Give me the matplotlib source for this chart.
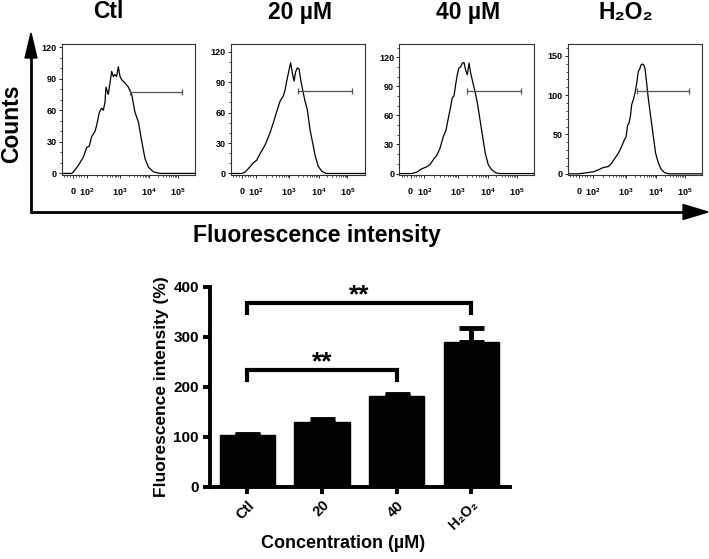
import matplotlib
matplotlib.use('Agg')
import numpy as np
import matplotlib.pyplot as plt
from matplotlib.ticker import AutoMinorLocator, FixedLocator
from matplotlib.patches import Polygon

plt.rcParams['font.family'] = ['Liberation Sans', 'DejaVu Sans']
plt.rcParams['font.weight'] = 'bold'
plt.rcParams['axes.labelweight'] = 'bold'
plt.rcParams['mathtext.fontset'] = 'custom'
plt.rcParams['mathtext.rm'] = 'Liberation Sans:bold'
plt.rcParams['mathtext.bf'] = 'Liberation Sans:bold'
plt.rcParams['mathtext.it'] = 'Liberation Sans:bold'
plt.rcParams['mathtext.default'] = 'bf'

W, H = 709, 559

# ===== FLOW HISTOGRAMS (display channel 0-1024 vs counts) =====
ctl_ch = [0, 77, 90, 128, 166, 192, 212, 230, 256, 269, 289, 307, 320, 333, 340,
          358, 371, 384, 397, 410, 422, 435, 448, 461, 486, 512, 538, 563, 589,
          614, 640, 666, 704, 755, 1024]
ctl_counts = [0, 0, 1.5, 7.7, 15.4, 24.6, 26, 35, 40, 46, 58, 62, 60, 68, 82,
              75, 86, 97, 92, 94, 92, 101.5, 92, 89, 86, 82, 75, 58, 49,
              31, 14, 6, 1.5, 0, 0]

uM20_ch = [0, 84, 109, 147, 173, 198, 224, 262, 300, 325, 356, 376, 389, 401,
           414, 427, 445, 457, 470, 483, 495, 508, 521, 534, 549, 567, 584, 605,
           625, 645, 668, 694, 727, 1024]
uM20_counts = [0, 0, 1.3, 6.5, 10.5, 13, 19.6, 28, 40, 50, 63, 71, 74, 76,
               82, 91, 102, 109, 99, 91, 100, 104, 103, 92, 82, 71, 63, 43,
               30, 17, 7, 2.3, 0, 0]

uM40_ch = [0, 96, 134, 171, 209, 235, 260, 285, 310, 335, 356, 373, 391, 403,
           416, 429, 441, 454, 467, 479, 492, 504, 517, 530, 542, 557, 575, 593,
           613, 633, 653, 676, 701, 734, 764, 1024]
uM40_counts = [0, 0, 1.4, 4.8, 6.9, 9.3, 14.4, 18.5, 26, 38, 45, 57, 69, 78,
               80, 92, 102, 109, 110, 114, 114.5, 107, 102, 114, 104, 95, 85, 73,
               55.5, 38, 21, 9, 4, 0.7, 0, 0]

h2o2_ch = [0, 81, 119, 157, 195, 233, 271, 309, 335, 360, 385, 411, 431, 444,
           456, 466, 477, 487, 499, 512, 525, 537, 550, 558, 568, 578, 588, 601,
           613, 631, 652, 669, 690, 710, 735, 766, 1024]
h2o2_counts = [0, 0, 0.8, 1.7, 2.5, 5, 8, 9.3, 13.6, 20, 26, 35, 43, 47,
               62, 64, 73, 88, 94, 102.5, 115, 130, 134, 138.5, 139.5, 138.5, 134, 115,
               96, 73, 47, 26, 13.6, 6, 1.7, 0, 0]

panel_titles = ['Ctl', '20 µM', '40 µM', 'H₂O₂']
gate_start = [525, 516, 517, 525]
gate_end = [922, 922, 920, 923]
gate_level = [77, 81, 85, 105.5]
y_top = [123, 127.5, 133.7, 165]
y_step = [30, 30, 30, 50]
x_tick_pos = [89, 192, 445, 672, 890]
x_tick_lab = ['$0$', '$10^2$', '$10^3$', '$10^4$', '$10^5$']

# ===== BAR CHART =====
groups = ['Ctl', '20', '40', 'H₂O₂']
means = [104, 130, 182, 291]
sems = [2, 7, 5, 28]
# significance brackets: (start bar, end bar, height)
brackets = [(0, 3, 368), (0, 2, 235)]


def px_box(l, t, r, b):
    return [l / W, 1 - b / H, (r - l) / W, (b - t) / H]


fig = plt.figure(figsize=(W / 100, H / 100), dpi=100)

# overlay for the big arrows and shared labels (pixel coordinates)
ov = fig.add_axes([0, 0, 1, 1])
ov.set_xlim(0, W)
ov.set_ylim(H, 0)
ov.axis('off')
ov.plot([31, 31], [213, 55], color='k', lw=2, solid_capstyle='butt')
ov.plot([30, 686], [212, 212], color='k', lw=2, solid_capstyle='butt')
ov.add_patch(Polygon([[31, 33], [25, 58], [37, 58]], closed=True, color='k'))
ov.add_patch(Polygon([[708, 212], [683, 204.5], [683, 219.5]], closed=True, color='k'))
ov.text(12, 124, 'Counts', rotation=90, ha='center', va='center', fontsize=16.5)
ov.text(316.5, 242, 'Fluorescence intensity', ha='center', va='baseline', fontsize=16.5)

title_x = [108, 299.5, 468, 626]
for tx, t in zip(title_x, panel_titles):
    ov.text(tx, 18.5, t, ha='center', va='baseline', fontsize=16.5)

boxes = [(61.7, 44, 195, 175), (230.7, 44, 365, 175),
         (399, 44, 534.3, 175), (567.7, 44, 702.3, 175)]
curves = [(ctl_ch, ctl_counts), (uM20_ch, uM20_counts),
          (uM40_ch, uM40_counts), (h2o2_ch, h2o2_counts)]

minor_x = [20, 40, 60, 110, 130, 150, 170]
for i in range(len(x_tick_pos) - 2):
    a, b = x_tick_pos[i + 1], x_tick_pos[i + 2]
    for k in range(2, 10):
        minor_x.append(a + np.log10(k) * (b - a))

for i, box in enumerate(boxes):
    ax = fig.add_axes(px_box(*box))
    ch, cnt = curves[i]
    ax.plot(ch, cnt, color='k', lw=0.9)
    ax.plot([gate_start[i], gate_end[i]], [gate_level[i], gate_level[i]],
            color='#555555', lw=0.9, marker='|', markersize=5, markeredgewidth=0.9)
    ax.set_xlim(0, 1024)
    ax.set_ylim(-1.5, y_top[i])
    ax.set_yticks(np.arange(0, y_top[i], y_step[i]))
    ax.yaxis.set_minor_locator(AutoMinorLocator(3 if y_step[i] == 30 else 5))
    ax.set_xticks(x_tick_pos)
    ax.set_xticklabels(x_tick_lab)
    ax.xaxis.set_minor_locator(FixedLocator(minor_x))
    for s in ax.spines.values():
        s.set_linewidth(0.8)
        s.set_color('#333333')
    ax.tick_params(which='major', length=2, width=0.6, labelsize=6.5, pad=1.5)
    ax.tick_params(which='minor', length=1.2, width=0.5)
    ax.tick_params(axis='x', pad=6)

# ----- bar chart -----
bx = fig.add_axes(px_box(210, 287, 510, 487))
xpos = np.arange(len(groups))
bx.bar(xpos, means, width=0.74, color='k', edgecolor='k')
bx.errorbar(xpos, means, yerr=[np.zeros(len(sems)), sems], fmt='none',
            ecolor='k', elinewidth=3.5, capsize=9, capthick=3.5)
for x0, x1, yb in brackets:
    bx.plot([x0, x0, x1, x1], [yb - 20, yb, yb, yb - 20], color='k', lw=3,
            solid_joinstyle='miter', clip_on=False)
    bx.text((x0 + x1) / 2, yb + 1, '**', ha='center', va='baseline', fontsize=19)

bx.set_xlim(-0.5, 3.52)
bx.set_ylim(0, 400)
bx.set_yticks([0, 100, 200, 300, 400])
bx.set_xticks(xpos)
bx.set_xticklabels(groups, rotation=45, ha='right', rotation_mode='anchor')
bx.spines['top'].set_visible(False)
bx.spines['right'].set_visible(False)
bx.spines['left'].set_linewidth(2.8)
bx.spines['bottom'].set_linewidth(2.8)
bx.tick_params(length=5, width=2.8, labelsize=10.5, pad=3)
bx.tick_params(axis='y', labelsize=11)
bx.set_ylabel('Fluorescence intensity (%)', fontsize=12.5, labelpad=3)
bx.set_xlabel('Concentration (µM)', fontsize=13, labelpad=4)
bx.xaxis.set_label_coords(0.443, -0.24)

fig.savefig('out.png', dpi=100)
